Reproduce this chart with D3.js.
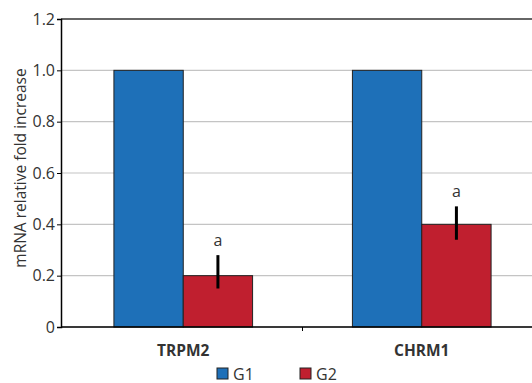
<!DOCTYPE html>
<html>
<head>
<meta charset="utf-8">
<script src="https://d3js.org/d3.v7.min.js"></script>
<style>
  body { margin: 0; background: #fff; }
  text { font-family: "Open Sans", sans-serif; fill: #333; }
</style>
</head>
<body>
<svg width="532" height="383"></svg>
<script>

var genes = ["TRPM2", "CHRM1"];
var groups = ["G1", "G2"];
var g1Values = [1.0, 1.0];
var g2Values = [0.2, 0.4];
var g2ErrHigh = [0.28, 0.47];
var g2ErrLow = [0.15, 0.34];
var sigLabels = ["a", "a"];
var yTicks = [0, 0.2, 0.4, 0.6, 0.8, 1.0, 1.2];

var colors = { G1: "#1e70b8", G2: "#c01f2f" };

var svg = d3.select("svg"),
    margin = { left: 61, top: 19, bottom: 56 },
    height = +svg.attr("height") - margin.top - margin.bottom;

var x = d3.scaleBand()
    .domain(genes)
    .range([64, 541]);

var xg = d3.scaleBand()
    .domain(groups)
    .range([0, x.bandwidth()])
    .paddingInner(0)
    .paddingOuter(0.72);

var y = d3.scaleLinear()
    .domain([0, 1.2])
    .range([margin.top + height, margin.top]);

// gridlines
svg.append("g")
  .selectAll("line")
  .data(yTicks)
  .enter().append("line")
    .attr("x1", margin.left)
    .attr("x2", 532)
    .attr("y1", function(d) { return y(d); })
    .attr("y2", function(d) { return y(d); })
    .attr("stroke", function(d) { return d == 1.2 ? "#666" : "#c4c4c4"; })
    .attr("stroke-width", function(d) { return d == 1.2 ? 2 : 1.2; });

var rows = genes.map(function(g, i) {
  return { gene: g, i: i, vals: [
    { group: "G1", value: g1Values[i] },
    { group: "G2", value: g2Values[i] }
  ] };
});

var cat = svg.append("g")
  .selectAll("g")
  .data(rows)
  .enter().append("g")
    .attr("transform", function(d) { return "translate(" + x(d.gene) + ",0)"; });

cat.selectAll("rect")
  .data(function(d) { return d.vals; })
  .enter().append("rect")
    .attr("x", function(d) { return xg(d.group); })
    .attr("y", function(d) { return y(d.value); })
    .attr("width", xg.bandwidth())
    .attr("height", function(d) { return y(0) - y(d.value); })
    .attr("fill", function(d) { return colors[d.group]; })
    .attr("stroke", "#222")
    .attr("stroke-width", 1);

// error bars
cat.append("line")
    .attr("x1", function() { return xg("G2") + xg.bandwidth() / 2; })
    .attr("x2", function() { return xg("G2") + xg.bandwidth() / 2; })
    .attr("y1", function(d) { return y(g2ErrLow[d.i]); })
    .attr("y2", function(d) { return y(g2ErrHigh[d.i]); })
    .attr("stroke", "#000")
    .attr("stroke-width", 3);

cat.append("text")
    .attr("x", function() { return xg("G2") + xg.bandwidth() / 2; })
    .attr("y", function(d) { return y(g2ErrHigh[d.i]) - 9; })
    .attr("text-anchor", "middle")
    .attr("font-size", 16)
    .text(function(d) { return sigLabels[d.i]; });

// y axis
var yAxis = svg.append("g")
    .attr("transform", "translate(" + margin.left + ",0)")
    .call(d3.axisLeft(y)
      .tickValues(yTicks)
      .tickSize(4)
      .tickFormat(function(d) { return d == 0 ? "0" : d3.format(".1f")(d); }));
yAxis.select(".domain").attr("stroke", "#000").attr("stroke-width", 1.5);
yAxis.selectAll(".tick line").attr("stroke", "#000");
yAxis.selectAll("text")
    .attr("font-size", 16)
    .attr("font-family", "Open Sans, sans-serif")
    .attr("fill", "#333")
    .attr("x", -6);

// x axis
var xAxis = svg.append("g")
    .attr("transform", "translate(0," + y(0) + ")");
xAxis.append("line")
    .attr("x1", margin.left)
    .attr("x2", 532)
    .attr("stroke", "#000")
    .attr("stroke-width", 1.5);
xAxis.selectAll(".sep")
  .data(genes.slice(1))
  .enter().append("line")
    .attr("x1", function(d) { return x(d); })
    .attr("x2", function(d) { return x(d); })
    .attr("y1", 0)
    .attr("y2", 4)
    .attr("stroke", "#000");
xAxis.selectAll("text")
  .data(genes)
  .enter().append("text")
    .attr("x", function(d) { return x(d) + x.bandwidth() / 2; })
    .attr("y", 29)
    .attr("text-anchor", "middle")
    .attr("font-size", 15.5)
    .attr("font-weight", "bold")
    .attr("fill", "#111")
    .text(function(d) { return d; });

// y label
svg.append("text")
    .attr("transform", "translate(26,168) rotate(-90)")
    .attr("text-anchor", "middle")
    .attr("font-size", 15.5)
    .attr("fill", "#111")
    .text("mRNA relative fold increase");

// legend
var legend = svg.append("g")
  .selectAll("g")
  .data(groups)
  .enter().append("g")
    .attr("transform", function(d, i) { return "translate(217," + 368 + ") translate(" + (i * 83) + ",0)"; });
legend.append("rect")
    .attr("width", 11)
    .attr("height", 11)
    .attr("fill", function(d) { return colors[d]; })
    .attr("stroke", "#222");
legend.append("text")
    .attr("x", 16)
    .attr("y", 11.5)
    .attr("font-size", 16)
    .text(function(d) { return d; });

</script>
</body>
</html>
